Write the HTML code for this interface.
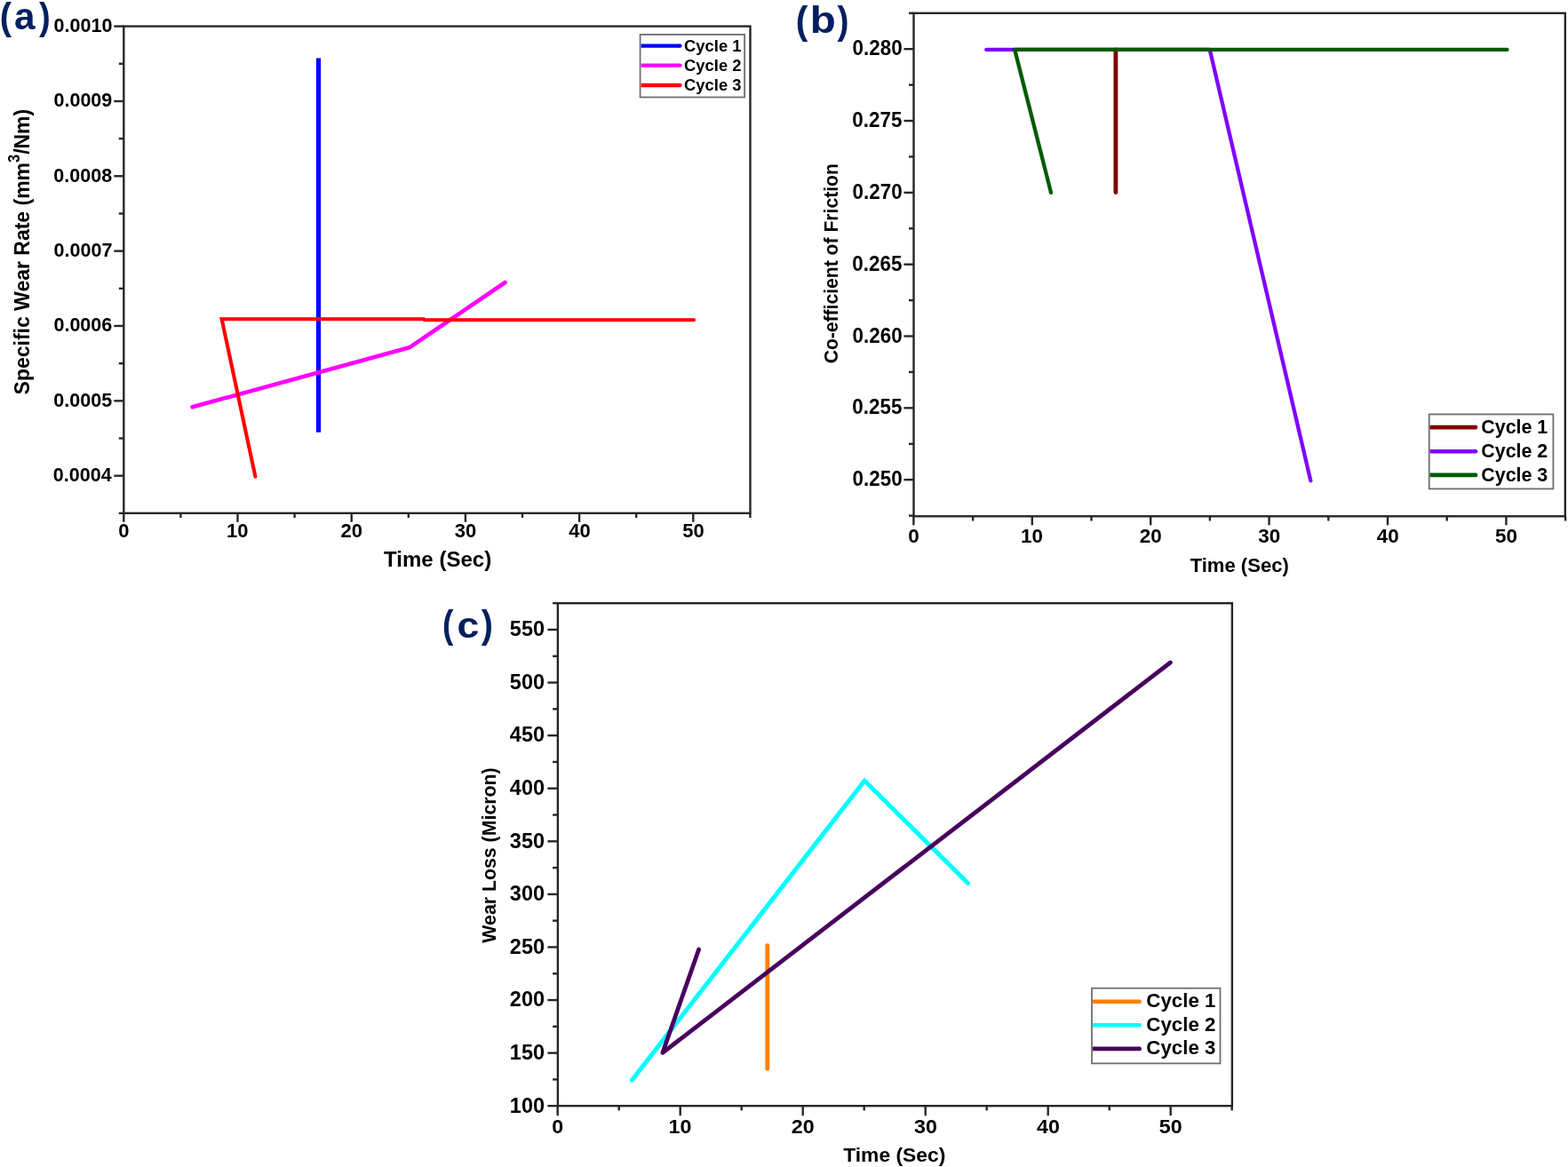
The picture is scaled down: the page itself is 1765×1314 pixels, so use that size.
<!DOCTYPE html>
<html><head><meta charset="utf-8"><title>Wear and friction plots</title>
<style>
html,body{margin:0;padding:0;background:#fff;}
body{width:1765px;height:1314px;overflow:hidden;position:relative;}
svg{position:absolute;left:0;top:0;}
text{font-family:"Liberation Sans",Arial,Helvetica,sans-serif;font-weight:bold;}
</style></head>
<body>
<svg width="1765" height="1314" viewBox="0 0 1765 1314">
<rect width="1765" height="1314" fill="#fff"/>
<rect x="139.3" y="29.6" width="705.2" height="548.1999999999999" fill="none" stroke="#262626" stroke-width="2.4"/>
<line x1="139.30" y1="577.80" x2="139.30" y2="587.80" stroke="#262626" stroke-width="2.4" stroke-linecap="butt"/>
<line x1="203.40" y1="577.80" x2="203.40" y2="583.00" stroke="#262626" stroke-width="2.4" stroke-linecap="butt"/>
<line x1="267.50" y1="577.80" x2="267.50" y2="587.80" stroke="#262626" stroke-width="2.4" stroke-linecap="butt"/>
<line x1="331.60" y1="577.80" x2="331.60" y2="583.00" stroke="#262626" stroke-width="2.4" stroke-linecap="butt"/>
<line x1="395.70" y1="577.80" x2="395.70" y2="587.80" stroke="#262626" stroke-width="2.4" stroke-linecap="butt"/>
<line x1="459.80" y1="577.80" x2="459.80" y2="583.00" stroke="#262626" stroke-width="2.4" stroke-linecap="butt"/>
<line x1="523.90" y1="577.80" x2="523.90" y2="587.80" stroke="#262626" stroke-width="2.4" stroke-linecap="butt"/>
<line x1="588.00" y1="577.80" x2="588.00" y2="583.00" stroke="#262626" stroke-width="2.4" stroke-linecap="butt"/>
<line x1="652.10" y1="577.80" x2="652.10" y2="587.80" stroke="#262626" stroke-width="2.4" stroke-linecap="butt"/>
<line x1="716.20" y1="577.80" x2="716.20" y2="583.00" stroke="#262626" stroke-width="2.4" stroke-linecap="butt"/>
<line x1="780.30" y1="577.80" x2="780.30" y2="587.80" stroke="#262626" stroke-width="2.4" stroke-linecap="butt"/>
<line x1="844.40" y1="577.80" x2="844.40" y2="583.00" stroke="#262626" stroke-width="2.4" stroke-linecap="butt"/>
<line x1="139.30" y1="577.87" x2="133.80" y2="577.87" stroke="#262626" stroke-width="2.4" stroke-linecap="butt"/>
<line x1="139.30" y1="535.70" x2="128.30" y2="535.70" stroke="#262626" stroke-width="2.4" stroke-linecap="butt"/>
<line x1="139.30" y1="493.52" x2="133.80" y2="493.52" stroke="#262626" stroke-width="2.4" stroke-linecap="butt"/>
<line x1="139.30" y1="451.35" x2="128.30" y2="451.35" stroke="#262626" stroke-width="2.4" stroke-linecap="butt"/>
<line x1="139.30" y1="409.18" x2="133.80" y2="409.18" stroke="#262626" stroke-width="2.4" stroke-linecap="butt"/>
<line x1="139.30" y1="367.00" x2="128.30" y2="367.00" stroke="#262626" stroke-width="2.4" stroke-linecap="butt"/>
<line x1="139.30" y1="324.83" x2="133.80" y2="324.83" stroke="#262626" stroke-width="2.4" stroke-linecap="butt"/>
<line x1="139.30" y1="282.65" x2="128.30" y2="282.65" stroke="#262626" stroke-width="2.4" stroke-linecap="butt"/>
<line x1="139.30" y1="240.47" x2="133.80" y2="240.47" stroke="#262626" stroke-width="2.4" stroke-linecap="butt"/>
<line x1="139.30" y1="198.30" x2="128.30" y2="198.30" stroke="#262626" stroke-width="2.4" stroke-linecap="butt"/>
<line x1="139.30" y1="156.12" x2="133.80" y2="156.12" stroke="#262626" stroke-width="2.4" stroke-linecap="butt"/>
<line x1="139.30" y1="113.95" x2="128.30" y2="113.95" stroke="#262626" stroke-width="2.4" stroke-linecap="butt"/>
<line x1="139.30" y1="71.77" x2="133.80" y2="71.77" stroke="#262626" stroke-width="2.4" stroke-linecap="butt"/>
<line x1="139.30" y1="29.60" x2="128.30" y2="29.60" stroke="#262626" stroke-width="2.4" stroke-linecap="butt"/>
<polyline points="358.50,65.40 358.50,486.70" fill="none" stroke="#0000ff" stroke-width="5.2" stroke-linecap="butt" stroke-linejoin="round"/>
<polyline points="216.60,458.30 460.80,391.30 568.60,318.00" fill="none" stroke="#ff00ff" stroke-width="4.6" stroke-linecap="round" stroke-linejoin="round"/>
<polyline points="287.40,536.60 249.60,359.20 477.00,359.20 478.00,360.20 781.00,360.20" fill="none" stroke="#ff0000" stroke-width="4.1" stroke-linecap="round" stroke-linejoin="miter"/>
<rect x="720.6" y="38.9" width="117.5" height="70.6" fill="#fff" stroke="#6e6e6e" stroke-width="1.8"/>
<polyline points="721.60,51.60 765.30,51.60" fill="none" stroke="#0000ff" stroke-width="4.4" stroke-linecap="butt" stroke-linejoin="round"/>
<line x1="765.30" y1="51.60" x2="765.40" y2="51.60" stroke="#0000ff" stroke-width="4.4" stroke-linecap="round"/>
<text transform="translate(770.05,57.90) scale(1.000,1)" font-size="18.4" fill="#000">Cycle 1</text>
<polyline points="721.60,73.60 765.30,73.60" fill="none" stroke="#ff00ff" stroke-width="4.4" stroke-linecap="butt" stroke-linejoin="round"/>
<line x1="765.30" y1="73.60" x2="765.40" y2="73.60" stroke="#ff00ff" stroke-width="4.4" stroke-linecap="round"/>
<text transform="translate(770.05,80.00) scale(1.000,1)" font-size="18.4" fill="#000">Cycle 2</text>
<polyline points="721.60,96.00 765.30,96.00" fill="none" stroke="#ff0000" stroke-width="4.4" stroke-linecap="butt" stroke-linejoin="round"/>
<line x1="765.30" y1="96.00" x2="765.40" y2="96.00" stroke="#ff0000" stroke-width="4.4" stroke-linecap="round"/>
<text transform="translate(770.05,102.10) scale(1.000,1)" font-size="18.4" fill="#000">Cycle 3</text>
<text transform="translate(60.51,35.90) scale(0.985,1)" font-size="21.9" fill="#000">0.0010</text>
<text transform="translate(60.42,120.25) scale(0.985,1)" font-size="21.9" fill="#000">0.0009</text>
<text transform="translate(60.29,204.60) scale(0.985,1)" font-size="21.9" fill="#000">0.0008</text>
<text transform="translate(60.57,288.95) scale(0.985,1)" font-size="21.9" fill="#000">0.0007</text>
<text transform="translate(60.40,373.30) scale(0.985,1)" font-size="21.9" fill="#000">0.0006</text>
<text transform="translate(60.22,457.65) scale(0.985,1)" font-size="21.9" fill="#000">0.0005</text>
<text transform="translate(59.74,542.00) scale(0.985,1)" font-size="21.9" fill="#000">0.0004</text>
<text transform="translate(133.20,604.90) scale(1.000,1)" font-size="22.0" fill="#000">0</text>
<text transform="translate(255.02,604.90) scale(1.000,1)" font-size="22.0" fill="#000">10</text>
<text transform="translate(383.53,604.90) scale(1.000,1)" font-size="22.0" fill="#000">20</text>
<text transform="translate(511.86,604.90) scale(1.000,1)" font-size="22.0" fill="#000">30</text>
<text transform="translate(640.15,604.90) scale(1.000,1)" font-size="22.0" fill="#000">40</text>
<text transform="translate(768.18,604.90) scale(1.000,1)" font-size="22.0" fill="#000">50</text>
<text transform="translate(432.03,638.40) scale(1.002,1)" font-size="24.0" fill="#000">Time (Sec)</text>
<text transform="translate(32.6,283.6) rotate(-90) scale(0.935,1)" font-size="24.6" text-anchor="middle">Specific Wear Rate (mm<tspan font-size="17.5" dy="-11">3</tspan><tspan dy="11">/Nm)</tspan></text>
<text fill="#002060"><tspan x="-0.19" y="32.65" font-size="43.13" textLength="13.33" lengthAdjust="spacingAndGlyphs">(</tspan><tspan x="15.96" y="32.89" font-size="41.98" textLength="23.47" lengthAdjust="spacingAndGlyphs">a</tspan><tspan x="44.06" y="32.65" font-size="43.13" textLength="12.74" lengthAdjust="spacingAndGlyphs">)</tspan></text>
<rect x="1028.5" y="14.8" width="733.3" height="566.5" fill="none" stroke="#262626" stroke-width="2.4"/>
<line x1="1028.40" y1="581.30" x2="1028.40" y2="591.30" stroke="#262626" stroke-width="2.4" stroke-linecap="butt"/>
<line x1="1095.10" y1="581.30" x2="1095.10" y2="586.50" stroke="#262626" stroke-width="2.4" stroke-linecap="butt"/>
<line x1="1161.80" y1="581.30" x2="1161.80" y2="591.30" stroke="#262626" stroke-width="2.4" stroke-linecap="butt"/>
<line x1="1228.50" y1="581.30" x2="1228.50" y2="586.50" stroke="#262626" stroke-width="2.4" stroke-linecap="butt"/>
<line x1="1295.20" y1="581.30" x2="1295.20" y2="591.30" stroke="#262626" stroke-width="2.4" stroke-linecap="butt"/>
<line x1="1361.90" y1="581.30" x2="1361.90" y2="586.50" stroke="#262626" stroke-width="2.4" stroke-linecap="butt"/>
<line x1="1428.60" y1="581.30" x2="1428.60" y2="591.30" stroke="#262626" stroke-width="2.4" stroke-linecap="butt"/>
<line x1="1495.30" y1="581.30" x2="1495.30" y2="586.50" stroke="#262626" stroke-width="2.4" stroke-linecap="butt"/>
<line x1="1562.00" y1="581.30" x2="1562.00" y2="591.30" stroke="#262626" stroke-width="2.4" stroke-linecap="butt"/>
<line x1="1628.70" y1="581.30" x2="1628.70" y2="586.50" stroke="#262626" stroke-width="2.4" stroke-linecap="butt"/>
<line x1="1695.40" y1="581.30" x2="1695.40" y2="591.30" stroke="#262626" stroke-width="2.4" stroke-linecap="butt"/>
<line x1="1762.10" y1="581.30" x2="1762.10" y2="586.50" stroke="#262626" stroke-width="2.4" stroke-linecap="butt"/>
<line x1="1028.50" y1="580.60" x2="1023.00" y2="580.60" stroke="#262626" stroke-width="2.4" stroke-linecap="butt"/>
<line x1="1028.50" y1="540.18" x2="1017.50" y2="540.18" stroke="#262626" stroke-width="2.4" stroke-linecap="butt"/>
<line x1="1028.50" y1="499.77" x2="1023.00" y2="499.77" stroke="#262626" stroke-width="2.4" stroke-linecap="butt"/>
<line x1="1028.50" y1="459.35" x2="1017.50" y2="459.35" stroke="#262626" stroke-width="2.4" stroke-linecap="butt"/>
<line x1="1028.50" y1="418.94" x2="1023.00" y2="418.94" stroke="#262626" stroke-width="2.4" stroke-linecap="butt"/>
<line x1="1028.50" y1="378.52" x2="1017.50" y2="378.52" stroke="#262626" stroke-width="2.4" stroke-linecap="butt"/>
<line x1="1028.50" y1="338.11" x2="1023.00" y2="338.11" stroke="#262626" stroke-width="2.4" stroke-linecap="butt"/>
<line x1="1028.50" y1="297.69" x2="1017.50" y2="297.69" stroke="#262626" stroke-width="2.4" stroke-linecap="butt"/>
<line x1="1028.50" y1="257.28" x2="1023.00" y2="257.28" stroke="#262626" stroke-width="2.4" stroke-linecap="butt"/>
<line x1="1028.50" y1="216.86" x2="1017.50" y2="216.86" stroke="#262626" stroke-width="2.4" stroke-linecap="butt"/>
<line x1="1028.50" y1="176.45" x2="1023.00" y2="176.45" stroke="#262626" stroke-width="2.4" stroke-linecap="butt"/>
<line x1="1028.50" y1="136.03" x2="1017.50" y2="136.03" stroke="#262626" stroke-width="2.4" stroke-linecap="butt"/>
<line x1="1028.50" y1="95.62" x2="1023.00" y2="95.62" stroke="#262626" stroke-width="2.4" stroke-linecap="butt"/>
<line x1="1028.50" y1="55.20" x2="1017.50" y2="55.20" stroke="#262626" stroke-width="2.4" stroke-linecap="butt"/>
<line x1="1028.50" y1="14.79" x2="1023.00" y2="14.79" stroke="#262626" stroke-width="2.4" stroke-linecap="butt"/>
<polyline points="1255.90,56.00 1255.90,216.60" fill="none" stroke="#800000" stroke-width="4.8" stroke-linecap="round" stroke-linejoin="round"/>
<polyline points="1110.20,55.90 1361.80,55.90 1475.30,541.20" fill="none" stroke="#8000ff" stroke-width="4.3" stroke-linecap="round" stroke-linejoin="round"/>
<polyline points="1183.00,216.80 1142.20,55.90 1696.50,55.90" fill="none" stroke="#005a00" stroke-width="4.3" stroke-linecap="round" stroke-linejoin="round"/>
<rect x="1608.7" y="466.5" width="139.7" height="83.9" fill="#fff" stroke="#6e6e6e" stroke-width="1.8"/>
<polyline points="1609.60,481.10 1661.00,481.10" fill="none" stroke="#800000" stroke-width="4.6" stroke-linecap="butt" stroke-linejoin="round"/>
<line x1="1661.00" y1="481.10" x2="1661.10" y2="481.10" stroke="#800000" stroke-width="4.6" stroke-linecap="round"/>
<text transform="translate(1667.32,488.00) scale(1.000,1)" font-size="21.4" fill="#000">Cycle 1</text>
<polyline points="1609.60,508.20 1661.00,508.20" fill="none" stroke="#8000ff" stroke-width="4.6" stroke-linecap="butt" stroke-linejoin="round"/>
<line x1="1661.00" y1="508.20" x2="1661.10" y2="508.20" stroke="#8000ff" stroke-width="4.6" stroke-linecap="round"/>
<text transform="translate(1667.32,514.90) scale(1.000,1)" font-size="21.4" fill="#000">Cycle 2</text>
<polyline points="1609.60,534.90 1661.00,534.90" fill="none" stroke="#005a00" stroke-width="4.6" stroke-linecap="butt" stroke-linejoin="round"/>
<line x1="1661.00" y1="534.90" x2="1661.10" y2="534.90" stroke="#005a00" stroke-width="4.6" stroke-linecap="round"/>
<text transform="translate(1667.32,541.60) scale(1.000,1)" font-size="21.4" fill="#000">Cycle 3</text>
<text transform="translate(959.61,62.20) scale(0.950,1)" font-size="23.6" fill="#000">0.280</text>
<text transform="translate(959.32,143.03) scale(0.950,1)" font-size="23.6" fill="#000">0.275</text>
<text transform="translate(959.61,223.86) scale(0.950,1)" font-size="23.6" fill="#000">0.270</text>
<text transform="translate(959.32,304.69) scale(0.950,1)" font-size="23.6" fill="#000">0.265</text>
<text transform="translate(959.61,385.52) scale(0.950,1)" font-size="23.6" fill="#000">0.260</text>
<text transform="translate(959.32,466.35) scale(0.950,1)" font-size="23.6" fill="#000">0.255</text>
<text transform="translate(959.61,547.18) scale(0.950,1)" font-size="23.6" fill="#000">0.250</text>
<text transform="translate(1022.17,611.20) scale(1.040,1)" font-size="21.6" fill="#000">0</text>
<text transform="translate(1149.06,611.20) scale(1.040,1)" font-size="21.6" fill="#000">10</text>
<text transform="translate(1282.78,611.20) scale(1.040,1)" font-size="21.6" fill="#000">20</text>
<text transform="translate(1416.31,611.20) scale(1.040,1)" font-size="21.6" fill="#000">30</text>
<text transform="translate(1549.80,611.20) scale(1.040,1)" font-size="21.6" fill="#000">40</text>
<text transform="translate(1683.02,611.20) scale(1.040,1)" font-size="21.6" fill="#000">50</text>
<text transform="translate(1339.65,644.40) scale(1.003,1)" font-size="22.0" fill="#000">Time (Sec)</text>
<text transform="translate(943.00,296.90) rotate(-90) translate(-112.47,0) scale(0.935,1)" font-size="22.6" fill="#000">Co-efficient of Friction</text>
<text fill="#002060"><tspan x="895.87" y="37.63" font-size="44.20" textLength="13.57" lengthAdjust="spacingAndGlyphs">(</tspan><tspan x="911.86" y="37.09" font-size="41.67" textLength="29.09" lengthAdjust="spacingAndGlyphs">b</tspan><tspan x="942.56" y="37.63" font-size="44.20" textLength="12.98" lengthAdjust="spacingAndGlyphs">)</tspan></text>
<rect x="627.9" y="679.2" width="759.0000000000001" height="566.0" fill="none" stroke="#262626" stroke-width="2.4"/>
<line x1="627.70" y1="1245.20" x2="627.70" y2="1256.20" stroke="#262626" stroke-width="2.4" stroke-linecap="butt"/>
<line x1="696.70" y1="1245.20" x2="696.70" y2="1250.40" stroke="#262626" stroke-width="2.4" stroke-linecap="butt"/>
<line x1="765.70" y1="1245.20" x2="765.70" y2="1256.20" stroke="#262626" stroke-width="2.4" stroke-linecap="butt"/>
<line x1="834.70" y1="1245.20" x2="834.70" y2="1250.40" stroke="#262626" stroke-width="2.4" stroke-linecap="butt"/>
<line x1="903.70" y1="1245.20" x2="903.70" y2="1256.20" stroke="#262626" stroke-width="2.4" stroke-linecap="butt"/>
<line x1="972.70" y1="1245.20" x2="972.70" y2="1250.40" stroke="#262626" stroke-width="2.4" stroke-linecap="butt"/>
<line x1="1041.70" y1="1245.20" x2="1041.70" y2="1256.20" stroke="#262626" stroke-width="2.4" stroke-linecap="butt"/>
<line x1="1110.70" y1="1245.20" x2="1110.70" y2="1250.40" stroke="#262626" stroke-width="2.4" stroke-linecap="butt"/>
<line x1="1179.70" y1="1245.20" x2="1179.70" y2="1256.20" stroke="#262626" stroke-width="2.4" stroke-linecap="butt"/>
<line x1="1248.70" y1="1245.20" x2="1248.70" y2="1250.40" stroke="#262626" stroke-width="2.4" stroke-linecap="butt"/>
<line x1="1317.70" y1="1245.20" x2="1317.70" y2="1256.20" stroke="#262626" stroke-width="2.4" stroke-linecap="butt"/>
<line x1="1386.70" y1="1245.20" x2="1386.70" y2="1250.40" stroke="#262626" stroke-width="2.4" stroke-linecap="butt"/>
<line x1="627.90" y1="1245.20" x2="616.40" y2="1245.20" stroke="#262626" stroke-width="2.4" stroke-linecap="butt"/>
<line x1="627.90" y1="1215.41" x2="622.10" y2="1215.41" stroke="#262626" stroke-width="2.4" stroke-linecap="butt"/>
<line x1="627.90" y1="1185.62" x2="616.40" y2="1185.62" stroke="#262626" stroke-width="2.4" stroke-linecap="butt"/>
<line x1="627.90" y1="1155.83" x2="622.10" y2="1155.83" stroke="#262626" stroke-width="2.4" stroke-linecap="butt"/>
<line x1="627.90" y1="1126.04" x2="616.40" y2="1126.04" stroke="#262626" stroke-width="2.4" stroke-linecap="butt"/>
<line x1="627.90" y1="1096.25" x2="622.10" y2="1096.25" stroke="#262626" stroke-width="2.4" stroke-linecap="butt"/>
<line x1="627.90" y1="1066.46" x2="616.40" y2="1066.46" stroke="#262626" stroke-width="2.4" stroke-linecap="butt"/>
<line x1="627.90" y1="1036.67" x2="622.10" y2="1036.67" stroke="#262626" stroke-width="2.4" stroke-linecap="butt"/>
<line x1="627.90" y1="1006.88" x2="616.40" y2="1006.88" stroke="#262626" stroke-width="2.4" stroke-linecap="butt"/>
<line x1="627.90" y1="977.09" x2="622.10" y2="977.09" stroke="#262626" stroke-width="2.4" stroke-linecap="butt"/>
<line x1="627.90" y1="947.30" x2="616.40" y2="947.30" stroke="#262626" stroke-width="2.4" stroke-linecap="butt"/>
<line x1="627.90" y1="917.51" x2="622.10" y2="917.51" stroke="#262626" stroke-width="2.4" stroke-linecap="butt"/>
<line x1="627.90" y1="887.72" x2="616.40" y2="887.72" stroke="#262626" stroke-width="2.4" stroke-linecap="butt"/>
<line x1="627.90" y1="857.93" x2="622.10" y2="857.93" stroke="#262626" stroke-width="2.4" stroke-linecap="butt"/>
<line x1="627.90" y1="828.14" x2="616.40" y2="828.14" stroke="#262626" stroke-width="2.4" stroke-linecap="butt"/>
<line x1="627.90" y1="798.35" x2="622.10" y2="798.35" stroke="#262626" stroke-width="2.4" stroke-linecap="butt"/>
<line x1="627.90" y1="768.56" x2="616.40" y2="768.56" stroke="#262626" stroke-width="2.4" stroke-linecap="butt"/>
<line x1="627.90" y1="738.77" x2="622.10" y2="738.77" stroke="#262626" stroke-width="2.4" stroke-linecap="butt"/>
<line x1="627.90" y1="708.98" x2="616.40" y2="708.98" stroke="#262626" stroke-width="2.4" stroke-linecap="butt"/>
<line x1="627.90" y1="679.19" x2="622.10" y2="679.19" stroke="#262626" stroke-width="2.4" stroke-linecap="butt"/>
<polyline points="863.80,1064.60 863.80,1203.40" fill="none" stroke="#ff8000" stroke-width="4.8" stroke-linecap="round" stroke-linejoin="round"/>
<polyline points="711.30,1216.30 973.20,879.00 1089.60,994.60" fill="none" stroke="#00ffff" stroke-width="5.0" stroke-linecap="round" stroke-linejoin="round"/>
<polyline points="786.60,1069.00 745.90,1185.30 1317.40,746.00" fill="none" stroke="#48005e" stroke-width="4.8" stroke-linecap="round" stroke-linejoin="round"/>
<rect x="1229.0" y="1112.7" width="144.5" height="84.7" fill="#fff" stroke="#6e6e6e" stroke-width="1.8"/>
<polyline points="1229.90,1127.70 1282.60,1127.70" fill="none" stroke="#ff8000" stroke-width="4.6" stroke-linecap="butt" stroke-linejoin="round"/>
<line x1="1282.60" y1="1127.70" x2="1282.70" y2="1127.70" stroke="#ff8000" stroke-width="4.6" stroke-linecap="round"/>
<text transform="translate(1290.29,1134.20) scale(1.000,1)" font-size="22.3" fill="#000">Cycle 1</text>
<polyline points="1229.90,1154.20 1282.60,1154.20" fill="none" stroke="#00ffff" stroke-width="4.6" stroke-linecap="butt" stroke-linejoin="round"/>
<line x1="1282.60" y1="1154.20" x2="1282.70" y2="1154.20" stroke="#00ffff" stroke-width="4.6" stroke-linecap="round"/>
<text transform="translate(1290.29,1160.80) scale(1.000,1)" font-size="22.3" fill="#000">Cycle 2</text>
<polyline points="1229.90,1180.90 1282.60,1180.90" fill="none" stroke="#48005e" stroke-width="4.6" stroke-linecap="butt" stroke-linejoin="round"/>
<line x1="1282.60" y1="1180.90" x2="1282.70" y2="1180.90" stroke="#48005e" stroke-width="4.6" stroke-linecap="round"/>
<text transform="translate(1290.29,1187.40) scale(1.000,1)" font-size="22.3" fill="#000">Cycle 3</text>
<text transform="translate(573.86,1252.50) scale(1.000,1)" font-size="23.5" fill="#000">100</text>
<text transform="translate(573.86,1192.92) scale(1.000,1)" font-size="23.5" fill="#000">150</text>
<text transform="translate(573.86,1133.34) scale(1.000,1)" font-size="23.5" fill="#000">200</text>
<text transform="translate(573.86,1073.76) scale(1.000,1)" font-size="23.5" fill="#000">250</text>
<text transform="translate(573.86,1014.18) scale(1.000,1)" font-size="23.5" fill="#000">300</text>
<text transform="translate(573.86,954.60) scale(1.000,1)" font-size="23.5" fill="#000">350</text>
<text transform="translate(573.86,895.02) scale(1.000,1)" font-size="23.5" fill="#000">400</text>
<text transform="translate(573.86,835.44) scale(1.000,1)" font-size="23.5" fill="#000">450</text>
<text transform="translate(573.86,775.86) scale(1.000,1)" font-size="23.5" fill="#000">500</text>
<text transform="translate(573.86,716.28) scale(1.000,1)" font-size="23.5" fill="#000">550</text>
<text transform="translate(621.24,1276.20) scale(1.030,1)" font-size="22.6" fill="#000">0</text>
<text transform="translate(752.50,1276.20) scale(1.030,1)" font-size="22.6" fill="#000">10</text>
<text transform="translate(890.83,1276.20) scale(1.030,1)" font-size="22.6" fill="#000">20</text>
<text transform="translate(1028.96,1276.20) scale(1.030,1)" font-size="22.6" fill="#000">30</text>
<text transform="translate(1167.06,1276.20) scale(1.030,1)" font-size="22.6" fill="#000">40</text>
<text transform="translate(1304.87,1276.20) scale(1.030,1)" font-size="22.6" fill="#000">50</text>
<text transform="translate(949.24,1308.00) scale(1.020,1)" font-size="22.4" fill="#000">Time (Sec)</text>
<text transform="translate(557.90,963.30) rotate(-90) translate(-98.38,0) scale(0.935,1)" font-size="22.8" fill="#000">Wear Loss (Micron)</text>
<text fill="#002060"><tspan x="498.05" y="718.21" font-size="44.31" textLength="12.39" lengthAdjust="spacingAndGlyphs">(</tspan><tspan x="514.45" y="717.61" font-size="39.79" textLength="24.86" lengthAdjust="spacingAndGlyphs">c</tspan><tspan x="541.86" y="718.21" font-size="44.31" textLength="13.22" lengthAdjust="spacingAndGlyphs">)</tspan></text>
</svg>
</body></html>
